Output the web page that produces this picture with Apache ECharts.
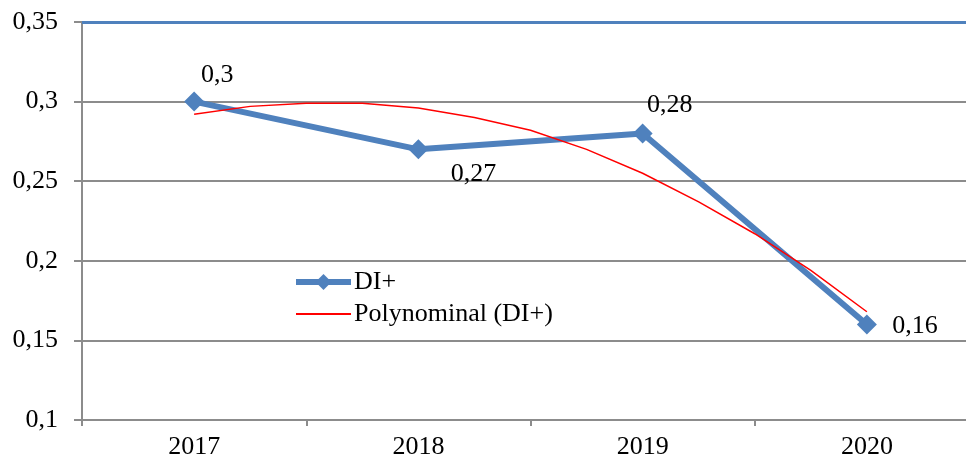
<!DOCTYPE html>
<html>
<head>
<meta charset="utf-8">
<script src="https://cdn.jsdelivr.net/npm/echarts@6/dist/echarts.min.js"></script>
<style>
  html, body { margin: 0; padding: 0; background: #fff; overflow: hidden; }
  /* plot area runs past the right edge of the picture, as in the original */
  #chart { width: 979px; height: 463px; }
</style>
</head>
<body>
<div id="chart"></div>
<script>
const years = ['2017', '2018', '2019', '2020'];
const diPlus = [0.30, 0.27, 0.28, 0.16];
// trend curve, x in category positions (1 = 2017)
const trendX = [1, 1.25, 1.5, 1.75, 2, 2.25, 2.5, 2.75, 3, 3.25, 3.5, 3.75, 4];
const trendY = [0.292, 0.297, 0.299, 0.299, 0.296, 0.290, 0.282, 0.270, 0.255, 0.237, 0.217, 0.194, 0.168];
const yTicks = [0.1, 0.15, 0.2, 0.25, 0.3, 0.35];

const font = '"Liberation Serif", "Times New Roman", serif';
const comma = (v) => String(+(+v).toFixed(2)).replace('.', ',');

const chart = echarts.init(document.getElementById('chart'));

// label offsets per point, as in the original
const labelOffsets = [[23, -26], [55, 25], [27, -28], [48, 2]];

chart.setOption({
    animation: false,
    textStyle: { fontFamily: font },
    grid: { left: 82, top: 22, right: 0, bottom: 43 },
    legend: {
        orient: 'vertical',
        left: 288,
        top: 264,
        itemWidth: 55,
        itemHeight: 20,
        itemGap: 6,
        textStyle: { fontFamily: font, fontSize: 26, color: '#000', padding: [0, 0, 0, -2] },
        data: [
            { name: 'DI+', lineStyle: { width: 6 } },
            { name: 'Polynominal (DI+)', itemStyle: { opacity: 0 }, lineStyle: { width: 2 } }
        ]
    },
    xAxis: [{
        type: 'category',
        data: years,
        boundaryGap: true,
        axisLine: { lineStyle: { color: '#8c8c8c', width: 2 } },
        axisTick: { show: true, length: 6, lineStyle: { color: '#8c8c8c', width: 2 } },
        axisLabel: { color: '#000', fontSize: 26, fontFamily: font, margin: 14 }
    }, {
        type: 'value',
        min: 0.5,
        max: 4.5,
        show: false
    }],
    yAxis: {
        type: 'value',
        min: yTicks[0],
        max: yTicks[yTicks.length - 1],
        interval: 0.05,
        axisLine: { show: true, lineStyle: { color: '#8c8c8c', width: 2 } },
        axisTick: { show: true, length: 8, lineStyle: { color: '#8c8c8c', width: 2 } },
        axisLabel: { color: '#000', fontSize: 26, fontFamily: font, margin: 24, formatter: comma },
        splitLine: { lineStyle: { color: '#8c8c8c', width: 2 } }
    },
    series: [{
        name: 'DI+',
        type: 'line',
        data: diPlus.map((v, i) => ({
            value: v,
            label: { offset: labelOffsets[i] }
        })),
        symbol: 'diamond',
        symbolSize: 20,
        lineStyle: { color: '#4f81bd', width: 6 },
        itemStyle: { color: '#4f81bd' },
        label: {
            show: true,
            position: 'inside',
            color: '#000',
            fontSize: 26,
            fontFamily: font,
            formatter: (p) => comma(p.value)
        },
        markLine: {
            silent: true,
            symbol: 'none',
            label: { show: false },
            lineStyle: { color: '#4f81bd', width: 3, type: 'solid' },
            data: [{ yAxis: 0.35 }]
        },
        z: 3
    }, {
        name: 'Polynominal (DI+)',
        type: 'line',
        xAxisIndex: 1,
        data: trendX.map((x, i) => [x, trendY[i]]),
        smooth: false,
        showSymbol: false,
        symbol: 'none',
        lineStyle: { color: '#ff0000', width: 1.5, join: 'round' },
        itemStyle: { color: '#ff0000' },
        z: 4
    }]
});
</script>
</body>
</html>
